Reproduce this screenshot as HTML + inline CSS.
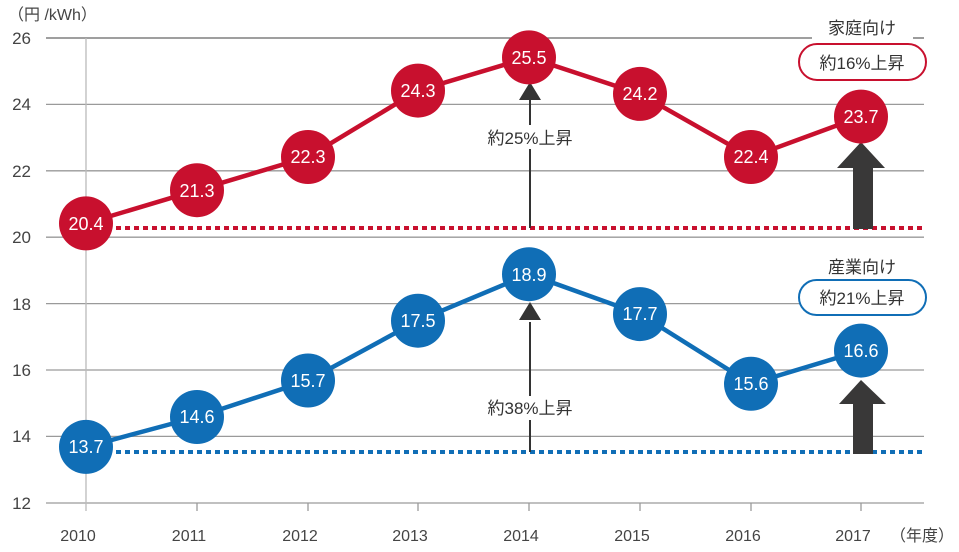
<!DOCTYPE html>
<html><head><meta charset="utf-8"><style>
html,body{margin:0;padding:0;background:#fff}
svg{display:block}
text{font-family:"Liberation Sans","Noto Sans CJK JP",sans-serif}
</style></head><body>
<svg width="959" height="552" viewBox="0 0 959 552">
<g stroke="#9a9a9a" stroke-width="1.3">
<line x1="46" y1="38" x2="812" y2="38" stroke="#666"/>
<line x1="913" y1="38" x2="924" y2="38" stroke="#666"/>
<line x1="46" y1="104.4" x2="924" y2="104.4"/>
<line x1="46" y1="170.8" x2="924" y2="170.8"/>
<line x1="46" y1="237.2" x2="924" y2="237.2"/>
<line x1="46" y1="303.6" x2="924" y2="303.6"/>
<line x1="46" y1="370" x2="924" y2="370"/>
<line x1="46" y1="436.4" x2="924" y2="436.4"/>
<line x1="46" y1="503" x2="924" y2="503"/>
<line x1="86" y1="38" x2="86" y2="511" stroke="#bbb"/>
<line x1="197" y1="503" x2="197" y2="511"/><line x1="308" y1="503" x2="308" y2="511"/>
<line x1="418" y1="503" x2="418" y2="511"/><line x1="529" y1="503" x2="529" y2="511"/>
<line x1="640" y1="503" x2="640" y2="511"/><line x1="751" y1="503" x2="751" y2="511"/>
<line x1="861" y1="503" x2="861" y2="511"/>
</g>
<g font-size="17" fill="#444" text-anchor="end">
<text x="31" y="44">26</text><text x="31" y="110">24</text><text x="31" y="177">22</text>
<text x="31" y="243">20</text><text x="31" y="310">18</text><text x="31" y="376">16</text>
<text x="31" y="442">14</text><text x="31" y="509">12</text>
</g>
<text x="8" y="20" font-size="16" fill="#444">（円 /kWh）</text>
<g font-size="16" fill="#444" text-anchor="middle">
<text x="78" y="541">2010</text><text x="189" y="541">2011</text><text x="300" y="541">2012</text>
<text x="410" y="541">2013</text><text x="521" y="541">2014</text><text x="632" y="541">2015</text>
<text x="743" y="541">2016</text><text x="853" y="541">2017</text>
</g>
<text x="890" y="541" font-size="16" fill="#444">（年度）</text>
<!-- dotted baselines -->
<line x1="116" y1="228" x2="924" y2="228" stroke="#c8102e" stroke-width="4" stroke-dasharray="5 4"/>
<line x1="116" y1="452" x2="924" y2="452" stroke="#106eb6" stroke-width="4" stroke-dasharray="5 4"/>
<!-- thin arrows -->
<line x1="530" y1="228" x2="530" y2="100" stroke="#333" stroke-width="2"/>
<polygon points="530,82 519,100 541,100" fill="#333"/>
<rect x="470" y="125" width="120" height="24" fill="#fff"/>
<text x="530" y="144" font-size="17" fill="#333" text-anchor="middle">約25%上昇</text>
<line x1="530" y1="452" x2="530" y2="322" stroke="#333" stroke-width="2"/>
<polygon points="530,302 519,320 541,320" fill="#333"/>
<rect x="470" y="396" width="120" height="24" fill="#fff"/>
<text x="530" y="414" font-size="17" fill="#333" text-anchor="middle">約38%上昇</text>
<!-- big arrows -->
<polygon points="861,142 885,168 873,168 873,229 853,229 853,168 837,168" fill="#393838"/>
<polygon points="861,380 886,404 873,404 873,454 853,454 853,404 839,404" fill="#393838"/>
<!-- red series -->
<polyline fill="none" stroke="#c8102e" stroke-width="4.5" points="86,223.4 197,190.2 308,157 418,90.6 529,57.4 640,93.9 751,157 861,116.6"/>
<g fill="#c8102e"><circle cx="86" cy="223.4" r="27"/><circle cx="197" cy="190.2" r="27"/><circle cx="308" cy="157" r="27"/><circle cx="418" cy="90.6" r="27"/><circle cx="529" cy="57.4" r="27"/><circle cx="640" cy="93.9" r="27"/><circle cx="751" cy="157" r="27"/><circle cx="861" cy="116.6" r="27"/></g>
<!-- blue series -->
<polyline fill="none" stroke="#106eb6" stroke-width="4.5" points="86,446.9 197,417 308,380.5 418,320.7 529,274.2 640,314.1 751,383.8 861,350.6"/>
<g fill="#106eb6"><circle cx="86" cy="446.9" r="27"/><circle cx="197" cy="417" r="27"/><circle cx="308" cy="380.5" r="27"/><circle cx="418" cy="320.7" r="27"/><circle cx="529" cy="274.2" r="27"/><circle cx="640" cy="314.1" r="27"/><circle cx="751" cy="383.8" r="27"/><circle cx="861" cy="350.6" r="27"/></g>
<g font-size="18" fill="#fff" text-anchor="middle">
<text x="86" y="230">20.4</text><text x="197" y="197">21.3</text><text x="308" y="163">22.3</text><text x="418" y="97">24.3</text><text x="529" y="64">25.5</text><text x="640" y="100">24.2</text><text x="751" y="163">22.4</text><text x="861" y="123">23.7</text>
<text x="86" y="453">13.7</text><text x="197" y="423">14.6</text><text x="308" y="387">15.7</text><text x="418" y="327">17.5</text><text x="529" y="281">18.9</text><text x="640" y="320">17.7</text><text x="751" y="390">15.6</text><text x="861" y="357">16.6</text>
</g>
<!-- legend labels -->
<text x="862" y="34" font-size="17" fill="#333" text-anchor="middle">家庭向け</text>
<rect x="799" y="44" width="127" height="36" rx="18" fill="#fff" stroke="#c8102e" stroke-width="2"/>
<text x="862" y="69" font-size="17" fill="#333" text-anchor="middle">約16%上昇</text>
<text x="862" y="273" font-size="17" fill="#333" text-anchor="middle">産業向け</text>
<rect x="799" y="280" width="127" height="35" rx="17.5" fill="#fff" stroke="#106eb6" stroke-width="2"/>
<text x="862" y="304" font-size="17" fill="#333" text-anchor="middle">約21%上昇</text>
</svg>
</body></html>
